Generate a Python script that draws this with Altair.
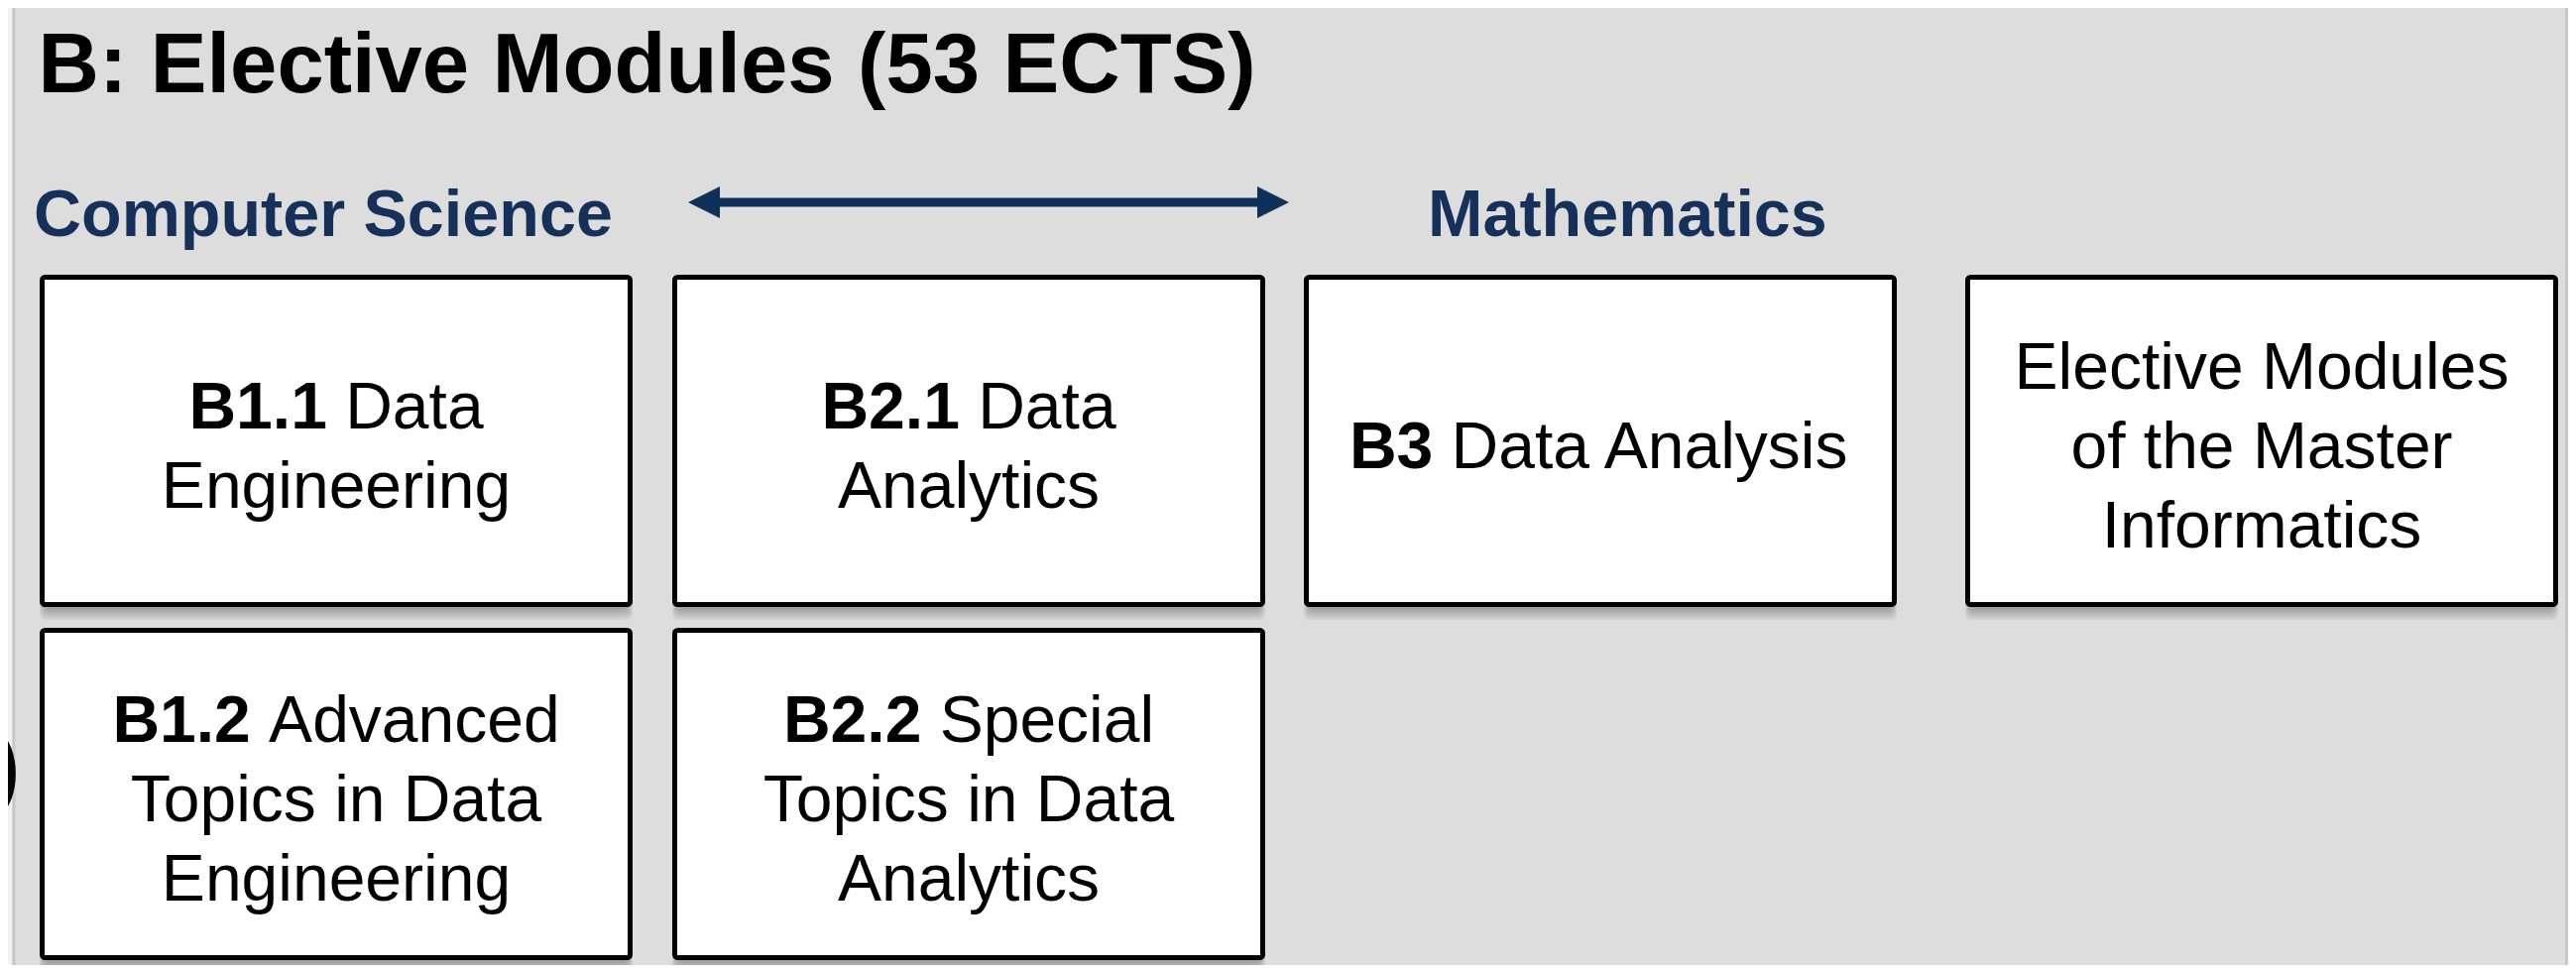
import altair as alt
import pandas as pd

# ---------------- content ----------------
title_text = ["B: Elective Modules (53 ECTS)"]
group_labels = ["Computer Science", "Mathematics"]
module_codes = ["B1.1", "B2.1", "B3", "", "B1.2", "B2.2"]
module_first = ["Data", "Data", "Data Analysis", "Elective Modules", "Advanced", "Special"]
module_more = [["Engineering"], ["Analytics"], [], ["of the Master", "Informatics"],
               ["Topics in Data", "Engineering"], ["Topics in Data", "Analytics"]]
module_col = [0, 1, 2, 3, 0, 1]
module_row = [0, 0, 0, 0, 1, 1]
edge_glyph = [")"]

# ---------------- layout / style ----------------
M = 8
CW, CH = 2582, 965
FONT = "Liberation Sans, Arial, Helvetica, sans-serif"
NAVY = "#15315b"
ARROW_C = "#0d3158"
BG = "#dddddd"
COL_LEFT = [40, 678, 1315, 1982]
ROW_TOP = [277, 633]
BOX_W, BOX_H = 598, 335
BORDER = 5
BODY_SIZE = 66
LINE_H = 80
CAP_OFF = 27
GROUP_X = [34, 1440]
GROUP_Y = 238
GROUP_SIZE = 66.5
ARROW_X = (694, 1300)
ARROW_Y = 204
HEAD = 32

REG = {' ': 278, 'A': 667, 'D': 722, 'S': 667, 'a': 556, 'c': 500, 'd': 556,
       'e': 556, 'i': 222, 'l': 222, 'n': 556, 'p': 556, 's': 500, 't': 278,
       'v': 500, 'y': 500}
BOLD = {'B': 722, '1': 556, '2': 556, '3': 556, '.': 278, ' ': 278}


def tw(s, table):
    return sum(table[c] for c in s) / 1000.0 * BODY_SIZE


xs = alt.Scale(domain=[M, M + CW], range=[0, CW], nice=False, zero=False)
ys = alt.Scale(domain=[M, M + CH], range=[0, CH], nice=False, zero=False)


def X(f="x"):
    return alt.X(f"{f}:Q", scale=xs, axis=None)


def Y(f="y"):
    return alt.Y(f"{f}:Q", scale=ys, axis=None)


# ---------------- tables ----------------
boxes, shadows, bold_rows, left_rows, center_rows = [], [], [], [], []
for code, first, more, c, r in zip(module_codes, module_first, module_more, module_col, module_row):
    left, top = COL_LEFT[c], ROW_TOP[r]
    boxes.append(dict(x=left + BORDER / 2, x2=left + BOX_W - BORDER / 2,
                      y=top + BORDER / 2, y2=top + BOX_H - BORDER / 2))
    for k in (3, 6, 9, 12, 15):
        shadows.append(dict(x=left + 6 - k * 0.4, x2=left + BOX_W - 6 + k * 0.4,
                            y=top + k, y2=top + BOX_H + k * 0.85))
    lines = [first] + more
    n = len(lines)
    cx = left + BOX_W / 2
    cy = top + BOX_H / 2
    for j, line in enumerate(lines):
        base = cy + (j - (n - 1) / 2) * LINE_H + CAP_OFF
        if j == 0 and code:
            wb = tw(code, BOLD)
            total = wb + tw(" " + line, REG)
            start = cx - total / 2
            bold_rows.append(dict(x=start, y=base, t=code))
            left_rows.append(dict(x=start + wb + tw(" ", REG), y=base, t=line))
        else:
            center_rows.append(dict(x=cx, y=base, t=line))

df_box = pd.DataFrame(boxes)
df_shadow = pd.DataFrame(shadows)
df_bold = pd.DataFrame(bold_rows)
df_left = pd.DataFrame(left_rows)
df_center = pd.DataFrame(center_rows)
df_title = pd.DataFrame(dict(x=[38.5], y=[93], t=title_text))
df_groups = pd.DataFrame(dict(x=GROUP_X, y=[GROUP_Y] * 2, t=group_labels))
df_arrow = pd.DataFrame(dict(x=[ARROW_X[0] + HEAD / 2], x2=[ARROW_X[1] - HEAD / 2], y=[ARROW_Y]))
df_heads = pd.DataFrame(dict(x=[ARROW_X[0] + HEAD / 2, ARROW_X[1] - HEAD / 2],
                             y=[ARROW_Y] * 2, d=["left", "right"]))
df_strip = pd.DataFrame(dict(x=[M], x2=[12], y=[M], y2=[M + CH]))
df_edges = pd.DataFrame(dict(x=[14, M + CW - 1.5], y=[M, M], y2=[M + CH, M + CH]))
df_glyph = pd.DataFrame(dict(x=[22], y=[806], t=edge_glyph))

# ---------------- layers ----------------
strip = alt.Chart(df_strip).mark_rect(color="#f2f2f2").encode(
    x=X(), x2="x2:Q", y=Y(), y2="y2:Q")
edges = alt.Chart(df_edges).mark_rule(color="#c9c9c9", strokeWidth=3).encode(
    x=X(), y=Y(), y2="y2:Q")
glyph = alt.Chart(df_glyph).mark_text(
    font=FONT, fontSize=100, align="right", baseline="alphabetic", color="black"
).encode(x=X(), y=Y(), text="t:N")

title = alt.Chart(df_title).mark_text(
    font=FONT, fontSize=85, fontWeight="bold", align="left", baseline="alphabetic", color="black"
).encode(x=X(), y=Y(), text="t:N")
groups = alt.Chart(df_groups).mark_text(
    font=FONT, fontSize=GROUP_SIZE, fontWeight="bold", align="left", baseline="alphabetic", color=NAVY
).encode(x=X(), y=Y(), text="t:N")

arrow_line = alt.Chart(df_arrow).mark_rule(color=ARROW_C, strokeWidth=9).encode(
    x=X(), x2="x2:Q", y=Y())
arrow_heads = alt.Chart(df_heads).mark_point(
    filled=True, size=HEAD * HEAD, color=ARROW_C, opacity=1, strokeWidth=0
).encode(
    x=X(), y=Y(),
    shape=alt.Shape("d:N", scale=alt.Scale(domain=["left", "right"],
                                           range=["M -1 0 L 1 -1 L 1 1 Z", "M 1 0 L -1 -1 L -1 1 Z"]),
                    legend=None))

shadow = alt.Chart(df_shadow).mark_rect(color="black", opacity=0.06, cornerRadius=6).encode(
    x=X(), x2="x2:Q", y=Y(), y2="y2:Q")
box = alt.Chart(df_box).mark_rect(
    fill="white", stroke="black", strokeWidth=BORDER, cornerRadius=3
).encode(x=X(), x2="x2:Q", y=Y(), y2="y2:Q")

bold_txt = alt.Chart(df_bold).mark_text(
    font=FONT, fontSize=BODY_SIZE, fontWeight="bold", align="left", baseline="alphabetic", color="black"
).encode(x=X(), y=Y(), text="t:N")
left_txt = alt.Chart(df_left).mark_text(
    font=FONT, fontSize=BODY_SIZE, align="left", baseline="alphabetic", color="black"
).encode(x=X(), y=Y(), text="t:N")
center_txt = alt.Chart(df_center).mark_text(
    font=FONT, fontSize=BODY_SIZE, align="center", baseline="alphabetic", color="black"
).encode(x=X(), y=Y(), text="t:N")

chart = alt.layer(
    strip, edges, glyph, title, groups, arrow_line, arrow_heads,
    shadow, box, bold_txt, left_txt, center_txt
).properties(
    width=CW, height=CH, background=BG, padding=0,
    autosize=alt.AutoSizeParams(type="none")
).configure_view(stroke=None)

chart.save("out.html", embed_options={"renderer": "svg", "actions": False})
